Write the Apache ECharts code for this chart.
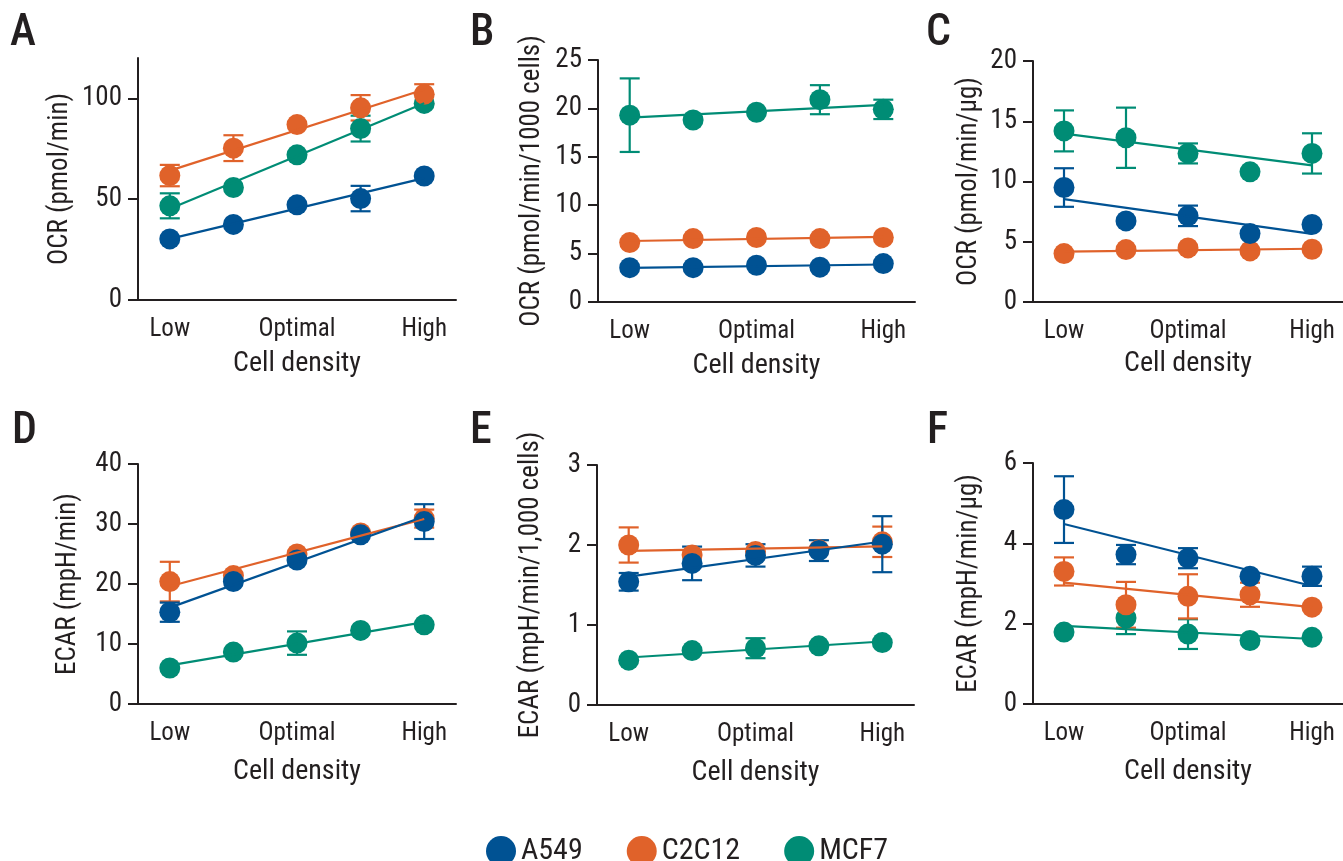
<!DOCTYPE html>
<html>
<head>
<meta charset="utf-8">
<script src="https://cdn.jsdelivr.net/npm/echarts@6/dist/echarts.min.js"></script>
<style>
  html, body { margin: 0; padding: 0; background: #fff; }
  #chart { width: 1343px; height: 861px; }
</style>
</head>
<body>
<div id="chart"></div>
<script>
var categories = ['Low', '', 'Optimal', '', 'High'];
var cellLines = ['A549', 'C2C12', 'MCF7'];
var lineColors = ['#005293', '#E0622A', '#008C75'];

// A: OCR (pmol/min)
var A_A549 = [30.3, 37.5, 47.2, 50.3, 61.5];
var A_A549_sd = [0, 0, 0, 6.3, 0];
var A_C2C12 = [61.7, 75.3, 87, 95.3, 102];
var A_C2C12_sd = [5.3, 6.4, 0, 6.3, 5];
var A_MCF7 = [46.7, 55.8, 72, 85, 97.5];
var A_MCF7_sd = [6.2, 0, 0, 6.4, 0];

// B: OCR (pmol/min/1000 cells)
var B_A549 = [3.55, 3.55, 3.8, 3.6, 3.97];
var B_A549_sd = [0, 0, 0, 0, 0];
var B_C2C12 = [6.14, 6.55, 6.66, 6.55, 6.66];
var B_C2C12_sd = [0, 0, 0, 0, 0];
var B_MCF7 = [19.3, 18.8, 19.6, 20.9, 19.9];
var B_MCF7_sd = [3.8, 0, 0, 1.5, 1.0];

// C: OCR (pmol/min/µg)
var C_A549 = [9.5, 6.73, 7.15, 5.68, 6.43];
var C_A549_sd = [1.6, 0, 0.85, 0, 0];
var C_C2C12 = [4.02, 4.35, 4.49, 4.24, 4.38];
var C_C2C12_sd = [0, 0, 0, 0, 0];
var C_MCF7 = [14.2, 13.63, 12.33, 10.8, 12.33];
var C_MCF7_sd = [1.7, 2.5, 0.83, 0, 1.67];

// D: ECAR (mpH/min)
var D_A549 = [15.3, 20.4, 24.0, 28.2, 30.4];
var D_A549_sd = [1.6, 0, 0, 0, 2.9];
var D_C2C12 = [20.4, 21.4, 25.0, 28.5, 30.9];
var D_C2C12_sd = [3.3, 0, 0, 0, 1.5];
var D_MCF7 = [6.0, 8.65, 10.15, 12.26, 13.2];
var D_MCF7_sd = [0, 0, 1.95, 0, 0];

// E: ECAR (mpH/min/1,000 cells)
var E_A549 = [1.54, 1.77, 1.87, 1.93, 2.01];
var E_A549_sd = [0.11, 0.21, 0.14, 0.13, 0.35];
var E_C2C12 = [2.0, 1.875, 1.92, 1.94, 2.04];
var E_C2C12_sd = [0.22, 0, 0, 0, 0.19];
var E_MCF7 = [0.56, 0.68, 0.71, 0.74, 0.78];
var E_MCF7_sd = [0, 0, 0.125, 0, 0];

// F: ECAR (mpH/min/µg)
var F_A549 = [4.84, 3.72, 3.63, 3.18, 3.18];
var F_A549_sd = [0.83, 0.24, 0.25, 0, 0.24];
var F_C2C12 = [3.3, 2.47, 2.68, 2.72, 2.41];
var F_C2C12_sd = [0.35, 0.57, 0.55, 0.3, 0];
var F_MCF7 = [1.79, 2.14, 1.74, 1.58, 1.66];
var F_MCF7_sd = [0, 0.4, 0.37, 0, 0];

var font = "'Roboto Condensed', 'Liberation Sans Narrow', 'DejaVu Sans Condensed', Roboto, sans-serif";
var ink = '#231f20';

var panels = [
  { letter: 'A', name: 'OCR (pmol/min)', max: 120, ticks: [0, 50, 100], nameGap: 64, xNameGap: 50,
    grid: { left: 138, top: 58, width: 318, height: 242 }, letterPos: [10, 12],
    data: [A_A549, A_C2C12, A_MCF7], sd: [A_A549_sd, A_C2C12_sd, A_MCF7_sd] },
  { letter: 'B', name: 'OCR (pmol/min/1000 cells)', max: 25, ticks: [0, 5, 10, 15, 20, 25], nameGap: 52, xNameGap: 50,
    grid: { left: 598, top: 60, width: 317, height: 242 }, letterPos: [470, 12],
    data: [B_A549, B_C2C12, B_MCF7], sd: [B_A549_sd, B_C2C12_sd, B_MCF7_sd] },
  { letter: 'C', name: 'OCR (pmol/min/µg)', max: 20, ticks: [0, 5, 10, 15, 20], nameGap: 50, xNameGap: 48,
    grid: { left: 1033, top: 61, width: 318, height: 241 }, letterPos: [926, 12],
    data: [C_A549, C_C2C12, C_MCF7], sd: [C_A549_sd, C_C2C12_sd, C_MCF7_sd] },
  { letter: 'D', name: 'ECAR (mpH/min)', max: 40, ticks: [0, 10, 20, 30, 40], nameGap: 56, xNameGap: 54,
    grid: { left: 138, top: 464, width: 318, height: 240 }, letterPos: [12, 410],
    data: [D_A549, D_C2C12, D_MCF7], sd: [D_A549_sd, D_C2C12_sd, D_MCF7_sd] },
  { letter: 'E', name: 'ECAR (mpH/min/1,000 cells)', max: 3, ticks: [0, 1, 2, 3], nameGap: 52, xNameGap: 54,
    grid: { left: 597, top: 465, width: 317, height: 240 }, letterPos: [470, 410],
    data: [E_A549, E_C2C12, E_MCF7], sd: [E_A549_sd, E_C2C12_sd, E_MCF7_sd] },
  { letter: 'F', name: 'ECAR (mpH/min/µg)', max: 6, ticks: [0, 2, 4, 6], nameGap: 50, xNameGap: 54,
    grid: { left: 1033, top: 463, width: 318, height: 241 }, letterPos: [927, 410],
    data: [F_A549, F_C2C12, F_MCF7], sd: [F_A549_sd, F_C2C12_sd, F_MCF7_sd] }
];

// least squares trend line over the five densities
function fitLine(values) {
  var n = values.length, sx = 0, sy = 0, sxy = 0, sxx = 0;
  for (var i = 0; i < n; i++) {
    sx += i; sy += values[i]; sxy += i * values[i]; sxx += i * i;
  }
  var b = (n * sxy - sx * sy) / (n * sxx - sx * sx);
  var a = (sy - b * sx) / n;
  return [[0, a], [n - 1, a + b * (n - 1)]];
}

function errorData(values, sd) {
  var out = [];
  for (var i = 0; i < values.length; i++) {
    if (sd[i] > 0) out.push([i, values[i] - sd[i], values[i] + sd[i]]);
  }
  return out;
}

function errorRenderer(color) {
  return function (params, api) {
    var lo = api.coord([api.value(0), api.value(1)]);
    var hi = api.coord([api.value(0), api.value(2)]);
    var w = 10;
    var st = { stroke: color, lineWidth: 2.2 };
    return {
      type: 'group',
      children: [
        { type: 'line', shape: { x1: lo[0], y1: lo[1], x2: hi[0], y2: hi[1] }, style: st },
        { type: 'line', shape: { x1: lo[0] - w, y1: lo[1], x2: lo[0] + w, y2: lo[1] }, style: st },
        { type: 'line', shape: { x1: hi[0] - w, y1: hi[1], x2: hi[0] + w, y2: hi[1] }, style: st }
      ]
    };
  };
}

var grids = [], xAxes = [], yAxes = [], series = [], titles = [];
var drawOrder = [2, 1, 0]; // MCF7 underneath, A549 on top

panels.forEach(function (p, k) {
  grids.push(p.grid);
  titles.push({
    text: p.letter, left: p.letterPos[0], top: p.letterPos[1], padding: 0,
    textStyle: { fontFamily: font, fontSize: 44, fontWeight: 500, color: ink }
  });
  xAxes.push({
    type: 'category', gridIndex: k, data: categories, boundaryGap: true,
    name: 'Cell density', nameLocation: 'middle', nameGap: p.xNameGap,
    nameTextStyle: { fontFamily: font, fontSize: 28, color: ink },
    axisLine: { lineStyle: { color: ink, width: 2 } },
    axisTick: { alignWithLabel: true, interval: 0, length: 10, lineStyle: { color: ink, width: 2 } },
    axisLabel: { interval: 0, margin: 17, fontFamily: font, fontSize: 25, color: ink },
    splitLine: { show: false }
  });
  yAxes.push({
    type: 'value', gridIndex: k, min: 0, max: p.max,
    name: p.name, nameLocation: 'middle', nameGap: p.nameGap,
    nameTextStyle: { fontFamily: font, fontSize: 27, color: ink },
    axisLine: { show: true, lineStyle: { color: ink, width: 2 } },
    axisTick: { show: true, length: 10, customValues: p.ticks, lineStyle: { color: ink, width: 2 } },
    axisLabel: { margin: 16, customValues: p.ticks, fontFamily: font, fontSize: 27, color: ink },
    splitLine: { show: false }
  });
  drawOrder.forEach(function (j) {
    var c = lineColors[j];
    series.push({
      type: 'custom', xAxisIndex: k, yAxisIndex: k, silent: true,
      renderItem: errorRenderer(c), encode: { x: 0, y: [1, 2] },
      data: errorData(p.data[j], p.sd[j])
    });
    series.push({
      type: 'line', xAxisIndex: k, yAxisIndex: k, silent: true, symbol: 'none',
      lineStyle: { color: c, width: 2.2 }, data: fitLine(p.data[j])
    });
    series.push({
      name: cellLines[j], type: 'scatter', xAxisIndex: k, yAxisIndex: k,
      symbol: 'circle', symbolSize: 21, itemStyle: { color: c, opacity: 1 },
      data: p.data[j].map(function (v, i) { return [i, v]; })
    });
  });
});

var chart = echarts.init(document.getElementById('chart'));
chart.setOption({
  animation: false,
  backgroundColor: '#ffffff',
  title: titles,
  grid: grids,
  xAxis: xAxes,
  yAxis: yAxes,
  legend: {
    data: cellLines, left: 481, top: 831, icon: 'circle',
    itemWidth: 30, itemHeight: 30, itemGap: 44,
    textStyle: { fontFamily: font, fontSize: 30, color: ink }
  },
  series: series
});
</script>
</body>
</html>
